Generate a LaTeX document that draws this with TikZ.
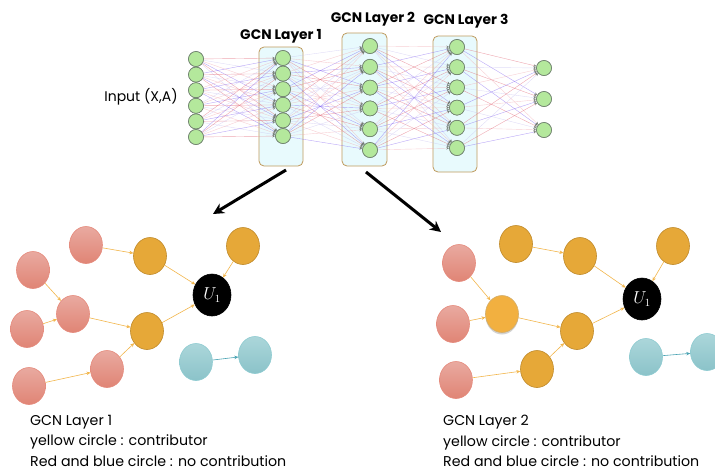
\documentclass[tikz,border=0pt]{standalone}
\usepackage{amsmath}
\usepackage{fontspec}
\setmainfont{Poppins}
\usetikzlibrary{arrows.meta,positioning,calc,shapes.geometric,shadows}

\definecolor{nodegreen}{HTML}{B4E89C}
\definecolor{nodegray}{HTML}{6E7E6E}
\definecolor{boxblue}{HTML}{E8FAFD}
\definecolor{boxgold}{HTML}{BF9A5C}
\definecolor{redtop}{HTML}{E9AAA0}
\definecolor{redbot}{HTML}{E08475}
\definecolor{redline}{HTML}{E58A7C}
\definecolor{yelfill}{HTML}{E6A838}
\definecolor{yelline}{HTML}{C08A2A}
\definecolor{glowfill}{HTML}{F2B040}
\definecolor{bluetop}{HTML}{ABD6DA}
\definecolor{bluebot}{HTML}{8BC3C9}
\definecolor{blueline}{HTML}{8ECBD1}
\definecolor{edgeorange}{HTML}{F2B64C}
\definecolor{edgeteal}{HTML}{4AA3B3}
\definecolor{edge0}{HTML}{E06070}
\definecolor{edge1}{HTML}{8060F0}
\definecolor{edge2}{HTML}{F0A8B0}
\definecolor{edge3}{HTML}{C8C0F0}
\definecolor{tipgray}{HTML}{707870}

\tikzset{
  neuron/.style={circle,draw=nodegray,fill=nodegreen,minimum size=15pt,inner sep=0pt,line width=0.6pt},
  layerbox/.style={draw=boxgold,fill=boxblue,rounded corners=5pt,line width=0.8pt},
  nnedge/.style={line width=0.4pt,draw opacity=0.55,-{Stealth[length=3pt,width=3pt,color=tipgray]}},
  gnode/.style={ellipse,minimum width=33pt,minimum height=37pt,inner sep=0pt,line width=0.6pt},
  rednode/.style={gnode,draw=redline,top color=redtop,bottom color=redbot},
  yelnode/.style={gnode,draw=yelline,fill=yelfill},
  bluenode/.style={gnode,draw=blueline,top color=bluetop,bottom color=bluebot},
  unode/.style={gnode,fill=black,draw=black,text=white,minimum width=38pt,minimum height=42pt,font=\fontsize{16}{18}\selectfont},
  gedge/.style={edgeorange,line width=0.6pt,-{Stealth[length=4pt,width=3.5pt]}},
  bigarrow/.style={line width=3pt,-{Stealth[length=11pt,width=11pt]}},
  legend/.style={anchor=north west,inner sep=0pt,align=left,font=\fontsize{14.2}{20.5}\selectfont},
  layertitle/.style={font=\bfseries\fontsize{13.8}{15}\selectfont}
}

\begin{document}
\begin{tikzpicture}[x=1pt,y=-1pt]
  \useasboundingbox (0,0) rectangle (715,472);
  % layer boxes
  \draw[layerbox] (259,47) rectangle (303,166);
  \draw[layerbox] (342,33) rectangle (387,166);
  \draw[layerbox] (433,36) rectangle (477,172);
  % neurons
  \foreach \k in {1,...,6} {
    \node[neuron] (in-\k) at (196,{59+15.6*(\k-1)}) {};
    \node[neuron] (ha-\k) at (283,{58+15.6*(\k-1)}) {};
    \node[neuron] (hb-\k) at (370,{46+20.8*(\k-1)}) {};
    \node[neuron] (hc-\k) at (457,{47+20.2*(\k-1)}) {};
  }
  \foreach \k/\y in {1/68,2/99,3/130}
    \node[neuron] (out-\k) at (544,\y) {};
  % fully connected edges
  \foreach \i in {1,...,6} {
    \foreach \j in {1,...,6} {
      \pgfmathtruncatemacro\ca{mod(\i*5+\j*3,4)}
      \pgfmathtruncatemacro\cb{mod(\i*3+\j*7+1,4)}
      \pgfmathtruncatemacro\cc{mod(\i*7+\j*5+2,4)}
      \draw[nnedge,draw=edge\ca] (in-\i) -- (ha-\j);
      \draw[nnedge,draw=edge\cb] (ha-\i) -- (hb-\j);
      \draw[nnedge,draw=edge\cc] (hb-\i) -- (hc-\j);
    }
    \foreach \j in {1,2,3} {
      \pgfmathtruncatemacro\cd{mod(\i*3+\j*5,4)}
      \draw[nnedge,draw=edge\cd] (hc-\i) -- (out-\j);
    }
  }
  % redraw neurons on top
  \foreach \k in {1,...,6} {
    \node[neuron] at (in-\k) {};
    \node[neuron] at (ha-\k) {};
    \node[neuron] at (hb-\k) {};
    \node[neuron] at (hc-\k) {};
  }
  \foreach \k in {1,2,3}
    \node[neuron] at (out-\k) {};
  % labels
  \node[layertitle] (ta) at (281,36) {GCN Layer 1};
  \node[layertitle] (tb) at (373,19) {GCN Layer 2};
  \node[layertitle] (tc) at (466,21) {GCN Layer 3};
  \node[font=\fontsize{14}{16}\selectfont] (tin) at (141,97) {Input (X,A)};
  % big arrows
  \coordinate (a1s) at (286,170);
  \coordinate (a1e) at (213,214);
  \coordinate (a2s) at (366,172);
  \coordinate (a2e) at (441,232);
  \draw[bigarrow] (a1s) -- (a1e);
  \draw[bigarrow] (a2s) -- (a2e);

  % left graph (layer 1)
  \node[rednode] (la-r1) at (86,245) {};
  \node[rednode] (la-r2) at (33,270) {};
  \node[rednode] (la-r3) at (73,314) {};
  \node[rednode] (la-r4) at (27,329) {};
  \node[rednode] (la-r5) at (107,369) {};
  \node[rednode] (la-r6) at (29,386) {};
  \node[yelnode] (la-y1) at (150,256) {};
  \node[yelnode] (la-y2) at (243,246) {};
  \node[yelnode] (la-y3) at (147,331) {};
  \node[unode] (la-u) at (212,295) {$U_1$};
  \node[bluenode] (la-b1) at (196,362) {};
  \node[bluenode] (la-b2) at (255,355) {};
  \draw[gedge] (la-r1) -- (la-y1);
  \draw[gedge] (la-y1) -- (la-u);
  \draw[gedge] (la-y2) -- (la-u);
  \draw[gedge] (la-r2) -- (la-r3);
  \draw[gedge] (la-r4) -- (la-r3);
  \draw[gedge] (la-r3) -- (la-y3);
  \draw[gedge] (la-y3) -- (la-u);
  \draw[gedge] (la-r6) -- (la-r5);
  \draw[gedge] (la-r5) -- (la-y3);
  \draw[gedge,edgeteal] (la-b1) -- (la-b2);

  % right graph (layer 2)
  \node[rednode] (lb-r1) at (459,263) {};
  \node[rednode] (lb-r2) at (453,324) {};
  \node[rednode] (lb-r3) at (456,380) {};
  \node[yelnode,draw=yelline!70,fill=glowfill,drop shadow={shadow xshift=0pt,shadow yshift=-2pt,opacity=0.35}] (lb-yg) at (502,314) {};
  \node[yelnode] (lb-y1) at (516,244) {};
  \node[yelnode] (lb-y2) at (580,256) {};
  \node[yelnode] (lb-y3) at (577,331) {};
  \node[yelnode] (lb-y4) at (537,369) {};
  \node[yelnode] (lb-y5) at (673,246) {};
  \node[unode] (lb-u) at (642,299) {$U_1$};
  \node[bluenode] (lb-b1) at (646,357) {};
  \node[bluenode] (lb-b2) at (707,352) {};
  \draw[gedge] (lb-r1) -- (lb-yg);
  \draw[gedge] (lb-r2) -- (lb-yg);
  \draw[gedge] (lb-yg) -- (lb-y3);
  \draw[gedge] (lb-y1) -- (lb-y2);
  \draw[gedge] (lb-y2) -- (lb-u);
  \draw[gedge] (lb-y5) -- (lb-u);
  \draw[gedge] (lb-y3) -- (lb-u);
  \draw[gedge] (lb-r3) -- (lb-y4);
  \draw[gedge] (lb-y4) -- (lb-y3);
  \draw[gedge,edgeteal] (lb-b1) -- (lb-b2);

  % legends
  \node[legend] (leg-a) at (30,415) {GCN Layer 1\\yellow circle : contributor\\Red and blue circle : no contribution};
  \node[legend] (leg-b) at (443,415) {GCN Layer 2\\yellow circle : contributor\\Red and blue circle : no contribution};
\end{tikzpicture}
\end{document}
